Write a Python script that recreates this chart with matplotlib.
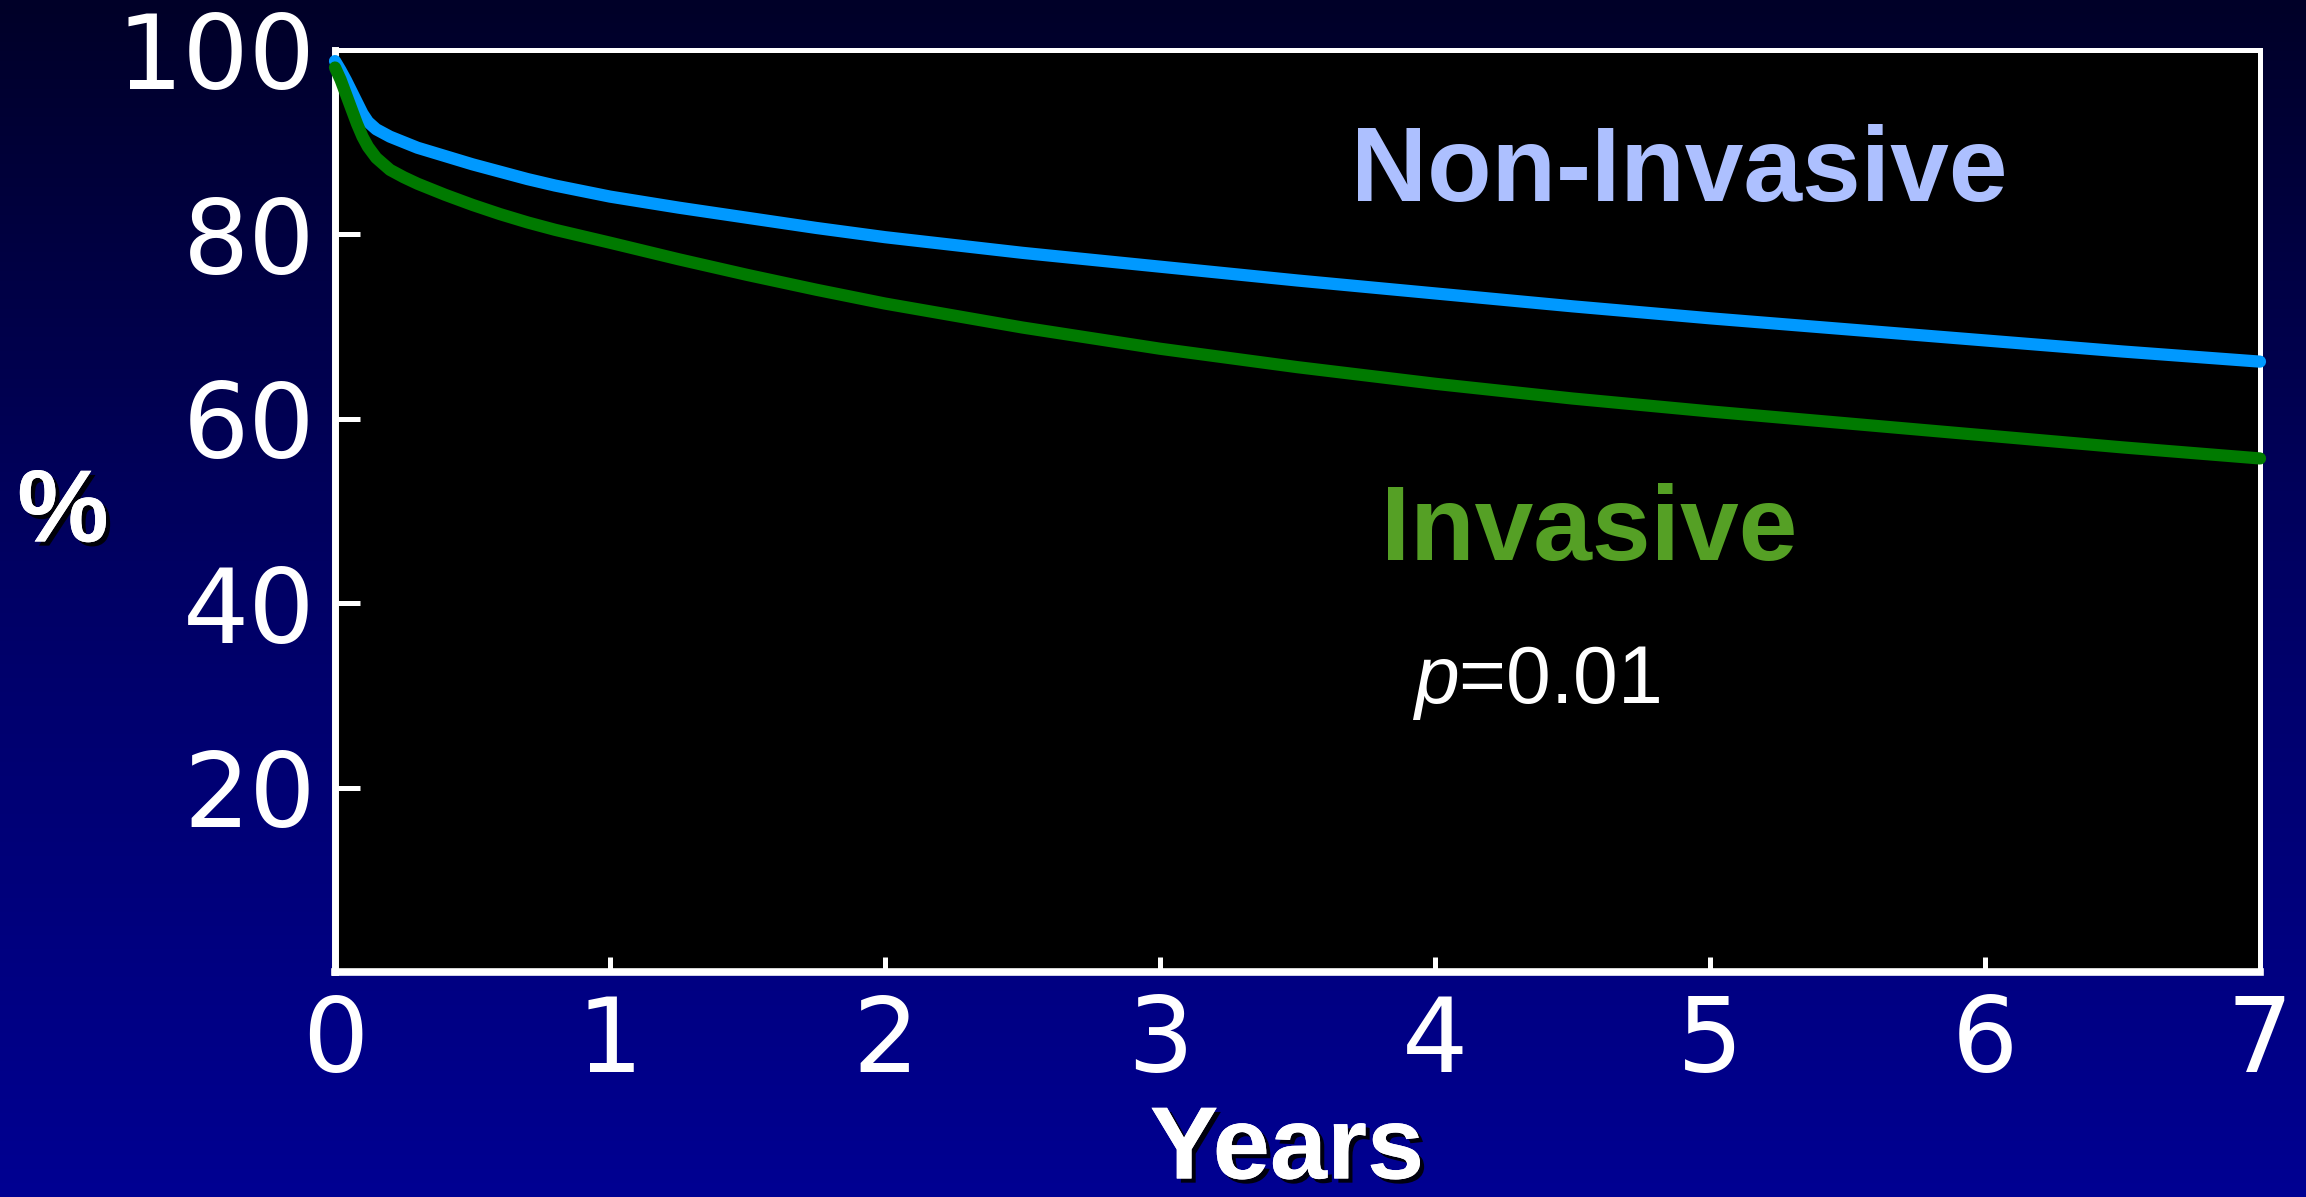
import numpy as np
import matplotlib
matplotlib.use("Agg")
import matplotlib.pyplot as plt
import matplotlib.patheffects as pe
from matplotlib.colors import LinearSegmentedColormap

plt.rcParams['mathtext.fontset'] = 'custom'
plt.rcParams['mathtext.it'] = 'Liberation Sans:italic'
plt.rcParams['mathtext.rm'] = 'Liberation Sans'

# survival curves (%), read per year
years = [0, 0.02, 0.04, 0.06, 0.08, 0.10, 0.12, 0.15, 0.2, 0.25, 0.3, 0.4, 0.5,
         0.6, 0.7, 0.8, 0.9, 1.0, 1.25, 1.5, 1.75, 2.0, 2.5, 3.0, 3.5, 4.0,
         4.5, 5.0, 5.5, 6.0, 6.5, 7.0]
non_invasive = [98.8, 97.8, 96.7, 95.5, 94.3, 93.1, 92.2, 91.4, 90.6, 90.0, 89.4,
                88.5, 87.6, 86.8, 86.0, 85.3, 84.7, 84.1, 82.9, 81.8, 80.7, 79.7,
                78.0, 76.5, 75.0, 73.6, 72.2, 70.9, 69.7, 68.5, 67.3, 66.2]
invasive = [98.1, 96.8, 95.2, 93.6, 92.0, 90.6, 89.5, 88.3, 87.0, 86.2, 85.5,
            84.3, 83.2, 82.2, 81.3, 80.5, 79.8, 79.1, 77.3, 75.6, 74.0, 72.5,
            69.9, 67.6, 65.6, 63.8, 62.2, 60.8, 59.5, 58.2, 56.9, 55.7]

x_ticks = [0, 1, 2, 3, 4, 5, 6, 7]
y_ticks = [20, 40, 60, 80, 100]

W, H = 2306, 1197
fig = plt.figure(figsize=(W / 100, H / 100), dpi=100)

# slide background: dark navy fading to blue at the bottom
bg = fig.add_axes([0, 0, 1, 1], zorder=-10)
cmap = LinearSegmentedColormap.from_list('slide', ['#000028', '#000066', '#000092'])
grad = np.linspace(0, 1, 256).reshape(-1, 1)
bg.imshow(grad, cmap=cmap, aspect='auto', extent=[0, 1, 0, 1], origin='upper')
bg.axis('off')

ax = fig.add_axes([335 / W, 1 - 972 / H, (2260 - 335) / W, (972 - 50) / H])
ax.set_facecolor('black')

line_kw = dict(lw=8.8, solid_capstyle='round', solid_joinstyle='round', clip_on=False)
ax.plot(years, non_invasive, color='#0099FF', zorder=4, **line_kw)
ax.plot(years, invasive, color='#007A00', zorder=5, **line_kw)

ax.set_xlim(0, 7)
ax.set_ylim(0, 100)
ax.set_xticks(x_ticks)
ax.set_yticks(y_ticks)

for side in ['top', 'right']:
    ax.spines[side].set_color('white')
    ax.spines[side].set_linewidth(3.6)
ax.spines['left'].set_color('white')
ax.spines['left'].set_linewidth(5)
ax.spines['bottom'].set_color('white')
ax.spines['bottom'].set_linewidth(5.5)

ax.tick_params(axis='y', direction='in', length=18, width=3.6, color='white',
               labelcolor='white', labelsize=75, pad=14)
ax.tick_params(axis='x', direction='in', length=11, width=3.6, color='white',
               labelcolor='white', labelsize=75, pad=15)
for lab in ax.get_xticklabels() + ax.get_yticklabels():
    lab.set_family('DejaVu Sans')

ax.text(4.89, 83.6, 'Non-Invasive', color='#ADC0FF', fontsize=76,
        fontweight='bold', family='Liberation Sans', ha='center', va='baseline')
ax.text(4.56, 44.7, 'Invasive', color='#55A025', fontsize=76,
        fontweight='bold', family='Liberation Sans', ha='center', va='baseline')
ax.text(3.916, 29.2, r'$p$=0.01', color='white', fontsize=58,
        family='Liberation Sans', ha='left', va='baseline')

shadow = [pe.withSimplePatchShadow(offset=(3, -3), shadow_rgbFace='black', alpha=0.9),
          pe.Normal()]
fig.text(63 / W, 1 - 515 / H, '%', color='white', fontsize=74, fontweight='bold',
         family='Liberation Sans', ha='center', va='center', path_effects=shadow)
fig.text(1287 / W, 1 - 1152 / H, 'Years', color='white', fontsize=74,
         fontweight='bold', family='Liberation Sans', ha='center', va='center',
         path_effects=shadow)

fig.savefig('out.png', dpi=100)
